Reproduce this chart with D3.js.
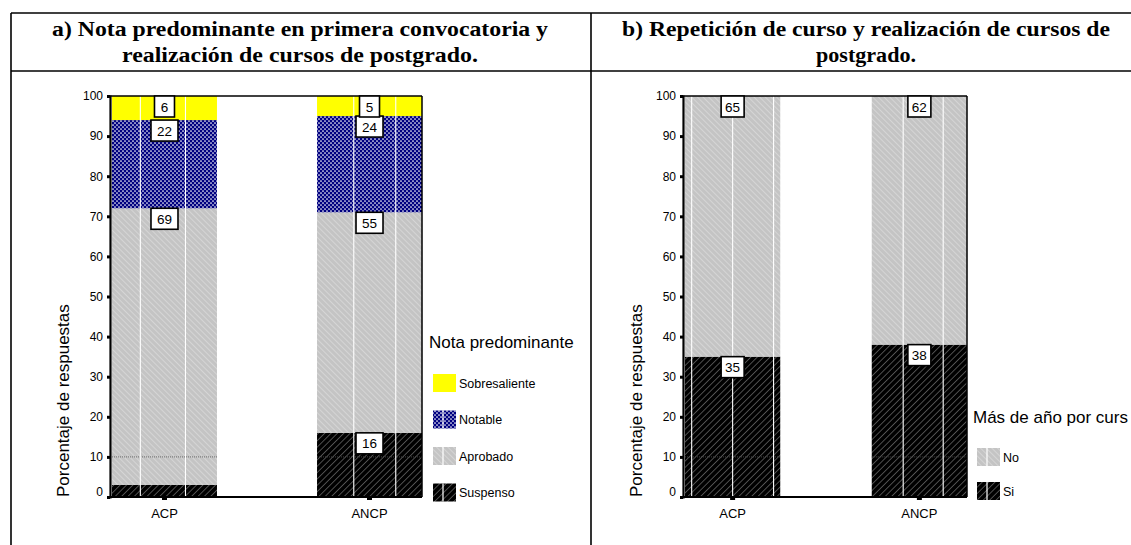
<!DOCTYPE html>
<html><head><meta charset="utf-8">
<script src="https://cdn.jsdelivr.net/npm/d3@7"></script>
<style>
html,body{margin:0;padding:0;background:#fff;overflow:hidden}
svg{display:block}
</style></head>
<body>
<svg id="c" width="1131" height="545"></svg>
<script>
// ---- data ----
const categories = ["ACP", "ANCP"];
const leftSeries = ["Suspenso", "Aprobado", "Notable", "Sobresaliente"];
const leftSuspenso = [3, 16];
const leftAprobado = [69, 55];
const leftNotable = [22, 24];
const leftSobresaliente = [6, 5];
const rightSeries = ["Si", "No"];
const rightSi = [35, 38];
const rightNo = [65, 62];
const yTicks = [0, 10, 20, 30, 40, 50, 60, 70, 80, 90, 100];
const leftTitle = "a) Nota predominante en primera convocatoria y";
const leftTitle2 = "realización de cursos de postgrado.";
const rightTitle = "b) Repetición de curso y realización de cursos de";
const rightTitle2 = "postgrado.";
const yAxisTitle = "Porcentaje de respuestas";
const leftLegendTitle = "Nota predominante";
const rightLegendTitle = "Más de año por curs";

const SANS = "Arial, Liberation Sans, sans-serif";
const svg = d3.select("#c");
const defs = svg.append("defs");

function hatch(id, bg, stroke, dir, sp, sw) {
  const p = defs.append("pattern").attr("id", id).attr("patternUnits", "userSpaceOnUse")
    .attr("width", sp).attr("height", sp)
    .attr("patternTransform", `rotate(${dir})`);
  p.append("rect").attr("width", sp).attr("height", sp).attr("fill", bg);
  p.append("line").attr("x1", 0).attr("y1", 0).attr("x2", 0).attr("y2", sp)
    .attr("stroke", stroke).attr("stroke-width", sw);
}
hatch("pSus", "#000", "#9a9a9a", 45, 4.5, 1);
hatch("pApr", "#c4c4c4", "#e6e6e6", -45, 4, 1);
{
  const p = defs.append("pattern").attr("id", "pNot").attr("patternUnits", "userSpaceOnUse")
    .attr("width", 4).attr("height", 4);
  p.append("rect").attr("width", 4).attr("height", 4).attr("fill", "#000080");
  p.append("circle").attr("cx", 1).attr("cy", 1).attr("r", 0.85).attr("fill", "#fff");
  p.append("circle").attr("cx", 3).attr("cy", 3).attr("r", 0.85).attr("fill", "#fff");
}
const fills = { Suspenso: "url(#pSus)", Aprobado: "url(#pApr)", Notable: "url(#pNot)", Sobresaliente: "#ffff00",
  Si: "url(#pSus)", No: "url(#pApr)" };

const g0 = svg.append("g");
g0.append("line").attr("x1", 11).attr("x2", 1131).attr("y1", 13).attr("y2", 13).attr("stroke", "#000").attr("stroke-width", 1.6);
g0.append("line").attr("x1", 11).attr("x2", 1131).attr("y1", 71).attr("y2", 71).attr("stroke", "#000").attr("stroke-width", 1.3);
g0.append("line").attr("x1", 11).attr("x2", 11).attr("y1", 13).attr("y2", 545).attr("stroke", "#000").attr("stroke-width", 1.6);
g0.append("line").attr("x1", 591).attr("x2", 591).attr("y1", 13).attr("y2", 545).attr("stroke", "#000").attr("stroke-width", 1.6);

function header(cx, l1, w1, l2, w2) {
  const t = g0.append("text").attr("font-family", "Liberation Serif, Times New Roman, serif")
    .attr("font-weight", "bold").attr("font-size", 20).attr("text-anchor", "middle");
  t.append("tspan").attr("x", cx).attr("y", 36).attr("textLength", w1).attr("lengthAdjust", "spacingAndGlyphs").text(l1);
  t.append("tspan").attr("x", cx).attr("y", 62).attr("textLength", w2).attr("lengthAdjust", "spacingAndGlyphs").text(l2);
}
header(300, leftTitle, 496, leftTitle2, 356);
header(866, rightTitle, 488, rightTitle2, 100);

const y = d3.scaleLinear().domain([0, 100]).range([497, 96]);

function chart(opts) {
  const g = svg.append("g");
  const x = d3.scaleBand().domain(categories).range([opts.bx0, opts.bx1]).paddingInner(opts.pad).paddingOuter(0);
  const rows = categories.map((c, i) => {
    const r = { cat: c };
    opts.series.forEach((s, k) => r[s] = opts.values[k][i]);
    return r;
  });
  const stack = d3.stack().keys(opts.series)(rows);
  stack.forEach(layer => {
    g.selectAll(null).data(layer).enter().append("rect")
      .attr("x", d => x(d.data.cat)).attr("width", x.bandwidth())
      .attr("y", d => y(d[1])).attr("height", d => y(d[0]) - y(d[1]))
      .attr("fill", fills[layer.key]);
  });
  categories.forEach(c => {
    g.append("line").attr("x1", x(c)).attr("x2", x(c) + x.bandwidth())
      .attr("y1", y(10)).attr("y2", y(10)).attr("stroke", "#555").attr("stroke-width", 0.8).attr("stroke-dasharray", "1,1");
  });
  categories.forEach((c, i) => {
    opts.vlines[i].forEach(f => {
      const xx = x(c) + f * x.bandwidth();
      g.append("line").attr("x1", xx).attr("x2", xx).attr("y1", y(100)).attr("y2", y(0))
        .attr("stroke", "#fff").attr("stroke-width", 1.1);
    });
  });
  g.append("line").attr("x1", opts.ax).attr("x2", opts.bx1).attr("y1", y(100)).attr("y2", y(100)).attr("stroke", "#000").attr("stroke-width", 1.5);
  g.append("line").attr("x1", opts.bx1).attr("x2", opts.bx1).attr("y1", y(100)).attr("y2", y(0)).attr("stroke", "#000").attr("stroke-width", 1.5);
  const ya = d3.axisLeft(y).tickValues(yTicks).tickSize(3).tickPadding(4);
  const yg = g.append("g").attr("transform", `translate(${opts.ax},0)`).call(ya);
  yg.select(".domain").attr("stroke-width", 2.2);
  yg.selectAll(".tick line").attr("stroke-width", 3);
  yg.selectAll(".tick text").attr("font-family", SANS).attr("font-size", 12).attr("fill", "#000")
    .attr("dy", d => d === 0 ? "-0.1em" : "0.32em");
  const xa = d3.axisBottom(x).tickSize(3).tickPadding(9);
  const xg = g.append("g").attr("transform", `translate(0,${y(0)})`).call(xa);
  xg.select(".domain").attr("d", `M${opts.ax},0H${opts.bx1}`).attr("stroke-width", 2.2);
  xg.selectAll(".tick line").attr("stroke-width", 5);
  xg.selectAll(".tick text").attr("font-family", SANS).attr("font-size", 13).attr("fill", "#000");
  g.append("text").attr("transform", `translate(${opts.ax - 41},${y(0)}) rotate(-90)`)
    .attr("font-family", SANS).attr("font-size", 17).text(yAxisTitle);
  stack.forEach(layer => {
    layer.forEach(d => {
      const v = d[1] - d[0];
      if (v < 5) return;
      const cx = x(d.data.cat) + x.bandwidth() / 2;
      const lbl = String(v);
      const w = lbl.length > 1 ? opts.boxW : 20;
      const top = y(d[1]);
      g.append("rect").attr("x", cx - w / 2).attr("y", top).attr("width", w).attr("height", 21)
        .attr("fill", "#fff").attr("stroke", "#000").attr("stroke-width", 1.6);
      g.append("text").attr("x", cx).attr("y", top + 15.5).attr("text-anchor", "middle")
        .attr("font-family", SANS).attr("font-size", 13.5).text(lbl);
    });
  });
  const lg = g.append("g");
  lg.append("text").attr("x", opts.lx - 4).attr("y", opts.ly)
    .attr("font-family", SANS).attr("font-size", opts.ltSize).text(opts.legendTitle);
  const items = opts.series.slice().reverse();
  items.forEach((s, i) => {
    const yy = opts.ly + opts.lfirst + i * opts.lstep;
    lg.append("rect").attr("x", opts.lx).attr("y", yy - 9).attr("width", 23).attr("height", 18).attr("fill", fills[s]);
    if (s !== "Sobresaliente") {
      lg.append("line").attr("x1", opts.lx + 10).attr("x2", opts.lx + 10).attr("y1", yy - 9).attr("y2", yy + 9)
        .attr("stroke", "#fff").attr("stroke-width", 1.2);
    }
    lg.append("text").attr("x", opts.lx + 26).attr("y", yy + 4.5)
      .attr("font-family", SANS).attr("font-size", 12.5).text(s);
  });
}

chart({
  series: leftSeries, values: [leftSuspenso, leftAprobado, leftNotable, leftSobresaliente],
  ax: 110, bx0: 112, bx1: 422, pad: 0.488, boxW: 27,
  vlines: [[0.27, 0.7], [0.35, 0.75]],
  legendTitle: leftLegendTitle, ltSize: 17, lx: 433, ly: 348, lfirst: 35, lstep: 36.5
});
chart({
  series: rightSeries, values: [rightSi, rightNo],
  ax: 683, bx0: 685, bx1: 967, pad: 0.49, boxW: 23,
  vlines: [[0.07, 0.5, 0.93], [0.33, 0.75]],
  legendTitle: rightLegendTitle, ltSize: 17, lx: 977, ly: 423, lfirst: 34, lstep: 34
});
</script>
</body></html>
